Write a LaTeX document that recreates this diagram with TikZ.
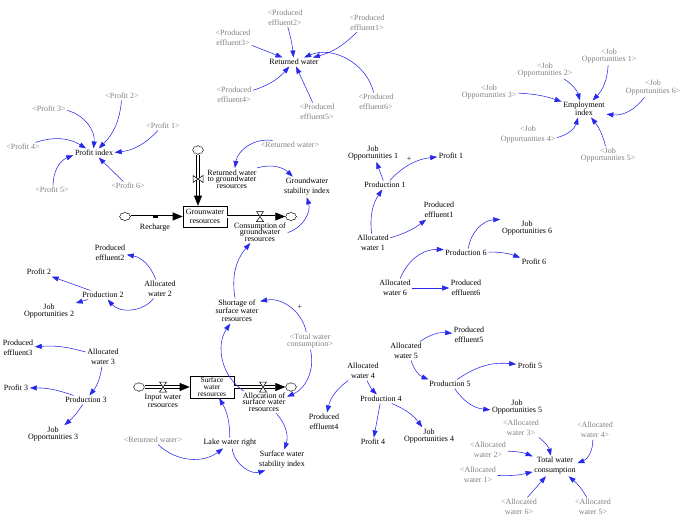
\documentclass[tikz,border=0pt]{standalone}
\usepackage{fontspec}
\setmainfont{Liberation Serif}
\usetikzlibrary{arrows.meta,shapes.symbols}
\definecolor{lnkblue}{RGB}{40,40,235}

\begin{document}
\begin{tikzpicture}[x=1pt,y=1pt,font=\fontsize{8}{10}\selectfont,
  var/.style={align=center,inner sep=1.5pt},
  shad/.style={var,text=black!50},
  lnk/.style={draw=lnkblue,line width=0.55pt,-{Triangle[length=7pt,width=5pt]}},
  stock/.style={draw,line width=0.6pt,minimum width=44pt,minimum height=21pt,inner sep=1pt,align=center},
  pipe/.style={double=white,double distance=2pt,line width=0.6pt,-{Triangle[length=10pt,width=8pt]}},
  cld/.style={cloud,draw,cloud puffs=8,aspect=1.3,minimum width=11pt,minimum height=9pt,inner sep=0pt},
  valve/.style={fill=white,line width=0.5pt}]
  \useasboundingbox (0,0) rectangle (685,-522);

  % profit index
  \node[var] (profidx) at (94,-153) {Profit index};
  \node[shad] (sp1) at (163,-126) {<Profit 1>};
  \node[shad] (sp2) at (122,-96) {<Profit 2>};
  \node[shad] (sp3) at (49,-109) {<Profit 3>};
  \node[shad] (sp4) at (23,-147) {<Profit 4>};
  \node[shad] (sp5) at (52,-190) {<Profit 5>};
  \node[shad] (sp6) at (128,-186) {<Profit 6>};
  \draw[lnk] (sp1) to[bend left=20] (profidx);
  \draw[lnk] (sp2) to[bend left=20] (profidx);
  \draw[lnk] (sp3) to[bend left=40] (profidx);
  \draw[lnk] (sp4) to[bend left=25] (profidx);
  \draw[lnk] (sp5) to[bend left=35] (profidx);
  \draw[lnk] (sp6) -- (profidx);

  % returned water
  \node[var] (rw) at (294,-62) {Returned water};
  \node[shad] (se1) at (367,-22.5) {<Produced\\effluent1>};
  \node[shad] (se2) at (285,-17.5) {<Produced\\effluent2>};
  \node[shad] (se3) at (233,-38) {<Produced\\effluent3>};
  \node[shad] (se4) at (234,-95) {<Produced\\effluent4>};
  \node[shad] (se5) at (317,-112) {<Produced\\effluent5>};
  \node[shad] (se6) at (376,-102) {<Produced\\effluent6>};
  \draw[lnk] (se1) to[bend left=15] (rw);
  \draw[lnk] (se2) to[bend left=5] (rw);
  \draw[lnk] (se3) -- (rw);
  \draw[lnk] (se4) to[bend right=15] (rw);
  \draw[lnk] (se5) -- (rw);
  \draw[lnk] (se6) to[bend right=50] (rw);

  % employment index
  \node[var] (emp) at (584,-109) {Employment\\[-2pt]index};
  \node[shad] (sj1) at (609,-56) {<Job\\[-3pt]Opportunities 1>};
  \node[shad] (sj2) at (545,-70) {<Job\\[-3pt]Opportunities 2>};
  \node[shad] (sj3) at (489,-92) {<Job\\[-3pt]Opportunities 3>};
  \node[shad] (sj4) at (528,-135) {<Job\\Opportunities 4>};
  \node[shad] (sj5) at (608,-155) {<Job\\[-3pt]Opportunities 5>};
  \node[shad] (sj6) at (653,-88) {<Job\\[-2pt]Opportunities 6>};
  \draw[lnk] (sj1) to[bend left=20] (emp);
  \draw[lnk] (sj2) to[bend left=20] (emp);
  \draw[lnk] (sj3) to[bend left=8] (emp);
  \draw[lnk] (sj4) to[bend right=30] (emp);
  \draw[lnk] (sj5) to[bend right=12] (emp);
  \draw[lnk] (sj6) to[bend left=30] (emp);

  % groundwater stock
  \node[stock] (gwbox) at (205,-216.5) {Grounwater\\[-1pt]resources};
  \node[cld] (gwl) at (125,-216.5) {};
  \node[cld] (gwr) at (291,-216.5) {};
  \node[cld] (gwt) at (198,-150) {};
  \draw[pipe] (gwl) -- (gwbox);
  \draw[pipe] (gwbox) -- (gwr);
  \draw[pipe] (gwt) -- (gwt |- gwbox.north);
  \coordinate (vrch) at (155,-216.5);
  \coordinate (vcns) at (260,-216.5);
  \coordinate (vrgw) at (198,-179);
  \fill ([shift={(-2.5,-1.5)}]vrch) rectangle ++(5,3);
  \draw[valve] ([shift={(-3.5,5)}]vcns) -- ++(7,0) -- ++(-7,-10) -- ++(7,0) -- cycle;
  \draw[valve] ([shift={(-5,3.5)}]vrgw) -- ++(0,-7) -- ++(10,7) -- ++(0,-7) -- cycle;
  \node[var] (rech) at (155,-228) {Recharge};
  \node[var] (cons) at (260,-232) {Consumption of\\[-3.5pt]groundwater\\[-3.5pt]resources};
  \node[var] (rwgw) at (232,-179) {Returned water\\[-3.5pt]to groundwater\\[-3.5pt]resources};
  \node[shad] (srw1) at (290,-145) {<Returned water>};
  \node[var] (gwsi) at (307,-187) {Groundwater\\stability index};
  \draw[lnk] (srw1) to[bend right=45] (rwgw);
  \draw[lnk] (rwgw) to[bend left=30] (gwsi);
  \draw[lnk] (cons) to[bend right=45] (gwsi);

  % surface water stock
  \node[stock,font=\fontsize{7.5}{7.2}\selectfont] (swbox) at (212,-387) {Surface\\water\\resources};
  \node[cld] (swl) at (139,-387) {};
  \node[cld] (swr) at (291,-387) {};
  \draw[pipe] (swl) -- (swbox);
  \draw[pipe] (swbox) -- (swr);
  \coordinate (vinp) at (163,-387);
  \coordinate (valc) at (263,-387);
  \draw[valve] ([shift={(-3.5,5)}]vinp) -- ++(7,0) -- ++(-7,-10) -- ++(7,0) -- cycle;
  \draw[valve] ([shift={(-3.5,5)}]valc) -- ++(7,0) -- ++(-7,-10) -- ++(7,0) -- cycle;
  \node[var] (inp) at (163,-401) {Input water\\[-2pt]resources};
  \node[var] (alloc) at (264,-402) {Allocation of\\[-3.5pt]surface water\\[-3.5pt]resources};
  \node[var] (short) at (237,-311) {Shortage of\\[-2pt]surface water\\[-2pt]resources};
  \node[shad] (stwc) at (310,-341) {<Total water\\[-3pt]consumption>};
  \node[var] (plus1) at (300,-307) {+};
  \node[shad] (srw2) at (153,-440) {<Returned water>};
  \node[var] (lake) at (230,-443) {Lake water right};
  \node[var] (swsi) at (282,-460) {Surface water\\stability index};
  \draw[lnk] (short) to[bend left=25] (cons);
  \draw[lnk] (alloc) to[bend left=45] (short);
  \draw[lnk] (stwc) to[bend right=45] (short);
  \draw[lnk] (stwc) to[bend left=40] (alloc);
  \draw[lnk] (srw2) to[bend right=40] (lake);
  \draw[lnk] (lake) to[bend right=15] (swbox);
  \draw[lnk] (lake) to[bend right=50] (swsi);
  \draw[lnk] (alloc) to[bend left=30] (swsi);

  % sectors 2 and 3
  \node[var] (pe2) at (110,-253) {Produced\\effluent2};
  \node[var] (prof2) at (39,-272) {Profit 2};
  \node[var] (prod2) at (103,-295) {Production 2};
  \node[var] (aw2) at (160,-289) {Allocated\\water 2};
  \node[var] (jo2) at (49,-311) {Job\\[-3pt]Opportunities 2};
  \draw[lnk] (aw2) to[bend right=30] (pe2);
  \draw[lnk] (aw2) to[bend left=50] (prod2);
  \draw[lnk] (prod2) -- (prof2);
  \draw[lnk] (prod2) -- (jo2);
  \node[var] (pe3) at (18,-348) {Produced\\effluent3};
  \node[var] (aw3) at (103,-357) {Allocated\\water 3};
  \node[var] (prof3) at (16,-388) {Profit 3};
  \node[var] (prod3) at (86,-400) {Production 3};
  \node[var] (jo3) at (53,-434) {Job\\[-3pt]Opportunities 3};
  \draw[lnk] (aw3) to[bend right=10] (pe3);
  \draw[lnk] (aw3) to[bend left=15] (prod3);
  \draw[lnk] (prod3) to[bend right=10] (prof3);
  \draw[lnk] (prod3) to[bend left=8] (jo3);

  % sectors 1 and 6
  \node[var] (jo1) at (373,-153) {Job\\[-3pt]Opportunities 1};
  \node[var] (prof1) at (451,-156) {Profit 1};
  \node[var] (plus2) at (409,-159) {+};
  \node[var] (prod1) at (385,-185) {Production 1};
  \node[var] (pe1) at (439,-210) {Produced\\effluent1};
  \node[var] (aw1) at (373,-243) {Allocated\\water 1};
  \draw[lnk] (prod1) -- (jo1);
  \draw[lnk] (prod1) to[bend left=20] (prof1);
  \draw[lnk] (aw1) to[bend left=20] (prod1);
  \draw[lnk] (aw1) to[bend right=10] (pe1);
  \node[var] (jo6) at (527,-228) {Job\\[-3pt]Opportunities 6};
  \node[var] (prod6) at (466,-253) {Production 6};
  \node[var] (prof6) at (534,-262) {Profit 6};
  \node[var] (aw6) at (395,-288) {Allocated\\water 6};
  \node[var] (pe6) at (466,-288) {Produced\\effluent6};
  \draw[lnk] (aw6) to[bend left=35] (prod6);
  \draw[lnk] (prod6) to[bend left=40] (jo6);
  \draw[lnk] (prod6) to[bend left=10] (prof6);
  \draw[lnk] (aw6) -- (pe6);

  % sectors 4 and 5
  \node[var] (pe5) at (469,-335) {Produced\\effluent5};
  \node[var] (aw5) at (406,-351) {Allocated\\water 5};
  \node[var] (aw4) at (363,-371) {Allocated\\water 4};
  \node[var] (prod5) at (450,-384) {Production 5};
  \node[var] (prod4) at (381,-399) {Production 4};
  \node[var] (pe4) at (324,-422) {Produced\\effluent4};
  \node[var] (prof4) at (373,-442) {Profit 4};
  \node[var] (jo4) at (429,-436) {Job\\[-3pt]Opportunities 4};
  \node[var] (prof5) at (530,-366) {Profit 5};
  \node[var] (jo5) at (517,-407) {Job\\[-3pt]Opportunities 5};
  \draw[lnk] (aw5) to[bend left=20] (pe5);
  \draw[lnk] (aw5) to[bend right=25] (prod5);
  \draw[lnk] (aw4) to[bend right=10] (prod4);
  \draw[lnk] (aw4) to[bend right=20] (pe4);
  \draw[lnk] (prod4) -- (prof4);
  \draw[lnk] (prod4) to[bend left=15] (jo4);
  \draw[lnk] (prod5) to[bend left=20] (prof5);
  \draw[lnk] (prod5) to[bend right=25] (jo5);

  % total water consumption
  \node[var] (twc) at (555,-466) {Total water\\consumption};
  \node[shad] (sa1) at (478,-475) {<Allocated\\water 1>};
  \node[shad] (sa2) at (488,-450) {<Allocated\\water 2>};
  \node[shad] (sa3) at (521,-428) {<Allocated\\water 3>};
  \node[shad] (sa4) at (595,-430) {<Allocated\\water 4>};
  \node[shad] (sa5) at (593,-507) {<Allocated\\water 5>};
  \node[shad] (sa6) at (519,-507) {<Allocated\\water 6>};
  \draw[lnk] (sa1) to[bend right=8] (twc);
  \draw[lnk] (sa2) to[bend left=10] (twc);
  \draw[lnk] (sa3) to[bend left=20] (twc);
  \draw[lnk] (sa4) to[bend left=35] (twc);
  \draw[lnk] (sa5) to[bend right=10] (twc);
  \draw[lnk] (sa6) -- (twc);
\end{tikzpicture}
\end{document}
